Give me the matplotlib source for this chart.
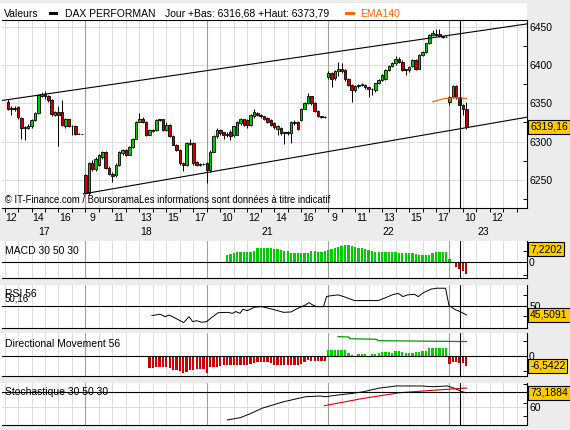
import matplotlib
matplotlib.use("Agg")
import matplotlib.pyplot as plt
from matplotlib.patches import Rectangle

plt.rcParams['font.family'] = ['Liberation Sans', 'DejaVu Sans']

W, H = 570, 430
BG = "#ECECEC"
UP, DOWN = "#00CC00", "#CC0000"
BOX = "#FFCC00"

# sessions shown (9:00-18:00, quarter-hour bars); x unit = trading hours
day_labels = ["17", "18", "21", "22", "23"]
first_bar = [13, 0, 0, 0, 0]
hour_labels = [[12, 14, 16], [9, 11, 13, 15, 17], [10, 12, 14, 16],
               [9, 11, 13, 15, 17], [10, 12]]

# OHLC per day (open, high, low, close)
d17 = [(6351, 6355, 6341, 6343), (6344, 6346, 6335, 6343), (6343, 6346, 6340, 6344),
       (6345, 6346, 6330, 6332), (6331, 6332, 6304, 6318), (6319, 6321, 6302, 6318),
       (6318, 6323, 6316, 6321), (6320, 6329, 6318, 6328), (6328, 6338, 6327, 6337),
       (6337, 6362, 6336, 6361), (6360, 6365, 6358, 6362), (6362, 6366, 6356, 6359),
       (6359, 6361, 6352, 6354), (6354, 6355, 6334, 6336), (6335, 6340, 6333, 6338),
       (6338, 6346, 6294, 6335), (6338, 6354, 6320, 6322), (6321, 6331, 6318, 6329),
       (6329, 6330, 6319, 6321), (6321, 6322, 6309, 6320), (6320, 6322, 6309, 6310),
       (6310, 6311, 6310, 6310), (6310, 6310, 6310, 6310)]
d18 = [(6257, 6258, 6232, 6233), (6233, 6274, 6231, 6272), (6272, 6276, 6262, 6264),
       (6264, 6280, 6262, 6278), (6270, 6284, 6268, 6282), (6280, 6288, 6278, 6287),
       (6287, 6288, 6264, 6266), (6266, 6268, 6256, 6258), (6258, 6260, 6248, 6255),
       (6256, 6272, 6254, 6270), (6270, 6288, 6268, 6287), (6285, 6291, 6283, 6289),
       (6289, 6290, 6281, 6283), (6283, 6294, 6282, 6293), (6293, 6305, 6292, 6304),
       (6304, 6327, 6303, 6326), (6326, 6337, 6325, 6330), (6330, 6332, 6324, 6326),
       (6326, 6327, 6307, 6309), (6309, 6316, 6308, 6315), (6314, 6317, 6313, 6315),
       (6315, 6329, 6314, 6328), (6328, 6330, 6327, 6329), (6329, 6330, 6314, 6315),
       (6315, 6326, 6314, 6322), (6322, 6323, 6306, 6307), (6307, 6308, 6295, 6296),
       (6296, 6297, 6288, 6289), (6289, 6290, 6269, 6272), (6272, 6274, 6262, 6270),
       (6270, 6299, 6268, 6298), (6297, 6303, 6296, 6298), (6298, 6299, 6270, 6272),
       (6274, 6275, 6268, 6270), (6270, 6272, 6268, 6271), (6271, 6272, 6270, 6271)]
d21 = [(6272, 6274, 6246, 6263), (6263, 6289, 6261, 6287), (6287, 6308, 6286, 6307),
       (6307, 6318, 6305, 6315), (6315, 6316, 6309, 6311), (6312, 6313, 6303, 6308),
       (6309, 6312, 6306, 6310), (6313, 6315, 6302, 6307), (6308, 6321, 6306, 6320),
       (6309, 6327, 6308, 6326), (6324, 6331, 6322, 6329), (6329, 6330, 6320, 6322),
       (6328, 6329, 6318, 6322), (6322, 6336, 6320, 6335), (6333, 6342, 6331, 6339),
       (6337, 6339, 6333, 6335), (6335, 6336, 6331, 6333), (6333, 6334, 6328, 6330),
       (6331, 6332, 6324, 6326), (6328, 6329, 6320, 6322), (6324, 6325, 6317, 6319),
       (6317, 6322, 6309, 6321), (6318, 6319, 6309, 6311), (6312, 6313, 6297, 6311),
       (6312, 6314, 6308, 6311), (6311, 6327, 6298, 6326), (6324, 6328, 6322, 6326),
       (6326, 6327, 6315, 6317), (6328, 6344, 6327, 6343), (6343, 6351, 6342, 6350),
       (6350, 6363, 6349, 6359), (6359, 6360, 6348, 6350), (6350, 6351, 6339, 6340),
       (6340, 6341, 6332, 6333), (6333, 6334, 6331, 6332), (6332, 6333, 6331, 6332)]
d22 = [(6384, 6392, 6382, 6389), (6389, 6391, 6371, 6382), (6383, 6393, 6380, 6392),
       (6392, 6404, 6385, 6394), (6394, 6402, 6390, 6392), (6393, 6394, 6379, 6381),
       (6382, 6383, 6372, 6374), (6374, 6375, 6351, 6367), (6367, 6374, 6365, 6373),
       (6372, 6375, 6370, 6374), (6374, 6377, 6372, 6375), (6374, 6375, 6369, 6371),
       (6371, 6372, 6358, 6368), (6368, 6370, 6361, 6368), (6367, 6377, 6365, 6376),
       (6376, 6381, 6375, 6380), (6380, 6388, 6379, 6387), (6382, 6395, 6380, 6393),
       (6393, 6400, 6392, 6398), (6398, 6404, 6397, 6402), (6402, 6412, 6400, 6408),
       (6408, 6410, 6403, 6404), (6404, 6406, 6392, 6393), (6394, 6395, 6387, 6393),
       (6393, 6398, 6391, 6397), (6398, 6408, 6397, 6407), (6407, 6408, 6393, 6394),
       (6395, 6414, 6394, 6413), (6413, 6418, 6412, 6417), (6417, 6429, 6416, 6428),
       (6428, 6440, 6427, 6439), (6439, 6446, 6438, 6441), (6440, 6447, 6438, 6439),
       (6440, 6447, 6436, 6437), (6437, 6438, 6435, 6436), (6436.5, 6437, 6436, 6436.5)]
d23 = [(6352, 6360, 6348, 6358.6), (6358.6, 6373.79, 6357, 6372), (6372, 6373.5, 6356, 6358.6),
       (6358, 6359, 6340, 6348), (6348, 6349, 6335, 6342), (6342, 6352, 6316.68, 6319.16)]
ohlc_days = [d17, d18, d21, d22, d23]

# EMA140 (from day 22 bar 31)
ema_start = (3, 31)
ema_vals = [6352, 6353, 6354.5, 6355.5, 6356.5, 6356.5, 6357, 6357, 6356.8, 6356.6, 6356.3]

# channel lines: anchor points (trading hours, index)
upper_pts = [(2.88, 6353.8), (41.75, 6453.4)]
lower_pts = [(8.85, 6231.9), (37.26, 6318.2)]

# MACD histogram (from day 21 bar 6)
macd_start = (2, 6)
macd_vals = [4.1, 4.6, 5.3, 5.6, 5.9, 5.9, 5.9, 5.9, 6.2, 7.8, 7.8, 7.8, 7.8, 7.8, 7.5,
             7.2, 6.8, 6.3, 6.0, 5.0, 5.0, 5.0, 5.0, 5.0, 5.3, 6.3, 6.0, 5.9, 5.9, 6.3,
             6.8, 7.5, 8.1, 8.3, 9.0, 9.6, 9.6, 9.2, 8.3, 8.0, 7.8, 7.4, 7.0, 6.3, 5.6,
             5.6, 5.6, 5.6, 5.6, 5.6, 5.6, 5.3, 5.0, 5.0, 5.0, 5.0, 4.4, 4.1, 4.1, 4.1,
             4.1, 5.0, 5.9, 5.9, 5.9, 5.9,
             1.7, -0.6, -2.8, -3.8, -4.6, -6.7]

# RSI 56
rsi_t = [13.93, 14.53, 14.93, 15.19, 15.60, 16.28, 16.68, 16.95, 17.23, 17.63, 17.98,
         18.44, 18.84, 19.52, 19.92, 20.14, 20.46, 20.68, 21.0, 21.54, 22.08, 22.89,
         23.70, 24.24, 24.78, 25.32, 25.58, 25.85, 26.13, 26.66, 26.88, 27.06, 27.73,
         28.15, 28.96, 29.9, 30.71, 31.26, 31.79, 32.2, 32.55, 32.87, 33.41, 33.68,
         34.08, 34.62, 35.03, 35.71, 35.97, 36.11, 36.37, 36.78, 37.26]
rsi_v = [45.2, 45.9, 44.6, 45.5, 44.1, 41.5, 44.6, 42.0, 42.5, 41.7, 42.0, 44.6, 46.7,
         46.9, 46.4, 47.3, 46.4, 48.5, 47.8, 49.6, 49.9, 48.5, 46.9, 47.1, 49.1, 50.8,
         52.0, 50.8, 49.9, 49.9, 55.2, 55.5, 56.1, 55.2, 53.1, 53.1, 53.1, 54.6, 56.2,
         56.9, 55.2, 56.1, 56.4, 55.2, 57.3, 59.1, 59.6, 59.6, 50.3, 49.9, 48.5, 47.3,
         45.5091]

# Directional Movement 56 (histogram from day 18 bar 19, line)
dm_start = (1, 19)
dm_vals = [-8.2, -8.2, -7.5, -7.1, -7.1, -7.1, -7.8, -9.0, -9.6, -10.2, -11.0, -10.5,
           -9.0, -9.0, -8.9, -8.9, -8.9,
           -11.1, -7.1, -7.1, -7.1, -6.5, -6.0, -6.0, -6.0, -6.0, -6.0, -6.0, -6.0,
           -6.0, -5.5, -4.5, -3.8, -3.8, -3.8, -3.8, -4.5, -6.0, -6.0, -6.0, -6.0,
           -6.0, -6.0, -6.0, -6.0, -5.5, -4.0, -2.7, -3.1, -3.1, -3.1, -3.1, -3.1,
           4.0, 4.0, 4.0, 4.0, 4.0, 4.0, 1.8, 0.7, 0.3, 1.1, 1.1, 1.1, 0.3, 1.1, 1.5,
           2.2, 2.5, 2.9, 2.9, 2.2, 3.5, 3.5, 2.9, 2.2, 2.2, 2.2, 2.5, 2.9, 3.5, 3.5,
           5.1, 5.1, 5.1, 5.1, 5.1, 5.1,
           -5.3, -3.8, -3.8, -4.9, -4.9, -6.5422]
dm_line_t = [27.73, 28.55, 28.6, 29.63, 30.58, 30.7, 37.26]
dm_line_v = [12.9, 12.6, 11.5, 11.3, 11.1, 10.2, 9.6]

# Stochastique 30 50 30
sto_t = [19.52, 20.19, 20.46, 21.28, 22.08, 22.89, 23.70, 24.50, 25.32, 26.40, 26.80,
         27.73, 28.82, 29.63, 30.71, 32.06, 33.95, 34.76, 35.84, 36.37, 36.92, 37.26]
sto_v = [48.5, 50.0, 50.5, 54.5, 59.1, 62.1, 65.1, 67.3, 69.6, 70.3, 69.6, 71.2, 72.7,
         74.2, 77.3, 79.4, 79.4, 78.7, 79.4, 77.3, 74.2, 73.1884]
sig_t = [26.74, 28.29, 29.63, 32.33, 35.03, 37.26]
sig_v = [61.5, 65.1, 68.2, 73.3, 75.7, 77.5]
sto_level = 74.2

cursor_t = 36.75
XMIN, XMAX = 2.81, 41.75


def bar_time(d, k):
    return d * 9 + k * 0.25


def series_times(start, n):
    d, k = start
    out = []
    for _ in range(n):
        out.append(bar_time(d, k))
        k += 1
        if k == 36:
            d, k = d + 1, 0
    return out


def px_rect(x0, y0, x1, y1):
    return [x0 / W, 1 - y1 / H, (x1 - x0) / W, (y1 - y0) / H]


fig = plt.figure(figsize=(W / 100, H / 100), dpi=100, facecolor=BG)

# white panel backgrounds (incl. header strip)
for y0, y1 in [(3, 208), (241, 278.3), (285, 328.3), (333, 376), (383, 424.5)]:
    r = px_rect(0, y0, 527, y1)
    fig.add_artist(Rectangle((r[0], r[1]), r[2], r[3], transform=fig.transFigure,
                             facecolor="white", edgecolor="none", zorder=-1))

hours = [d * 9 + j for d in range(5) for j in range(1, 9) if XMIN < d * 9 + j < XMAX]
bounds = [9, 18, 27, 36]


def make_panel(y0, y1, top=False):
    ax = fig.add_axes(px_rect(2, y0, 527, y1))
    ax.set_facecolor("white")
    for s in ["left", "top"]:
        ax.spines[s].set_visible(False)
    if top:
        ax.spines["top"].set_visible(True)
    for s in ax.spines.values():
        s.set_linewidth(0.8)
        s.set_color("black")
    ax.set_xlim(XMIN, XMAX)
    ax.set_xticks([])
    ax.yaxis.tick_right()
    ax.tick_params(axis="y", which="both", direction="in", length=3, width=0.7,
                   pad=1.5, labelsize=7.5)
    ax.tick_params(axis="y", which="major", length=0)
    for tt in hours:
        ax.axvline(tt, color="#DCDCDC", lw=0.7, zorder=0.5)
    for tt in bounds:
        ax.axvline(tt, color="#A0A0A0", lw=0.8, zorder=0.6)
    ax.axvline(cursor_t, color="black", lw=0.8, zorder=6)
    return ax


# ---- main price panel
ax = make_panel(20, 208, top=True)
ax.set_ylim(6213.5, 6458.5)
ax.set_yticks([6250, 6300, 6350, 6400, 6450])
ax.set_yticks([6225, 6275, 6325, 6375, 6425, 6250, 6300, 6350, 6400, 6450], minor=True)
for v in [6250, 6300, 6350, 6400, 6450]:
    ax.axhline(v, color="#DCDCDC", lw=0.7, zorder=0.5)

for d, bars in enumerate(ohlc_days):
    for k, (o, hi, lo, c) in enumerate(bars):
        t = bar_time(d, first_bar[d] + k)
        ax.vlines(t, lo, hi, color="black", lw=0.7, zorder=3)
        col = UP if c >= o else DOWN
        ax.bar(t, c - o, bottom=o, width=0.19, color=col, edgecolor="black",
               linewidth=0.6, zorder=4)

ema_t = series_times(ema_start, len(ema_vals))
ax.plot(ema_t, ema_vals, color="#FF6600", lw=0.9, zorder=5)

(ux0, uy0), (ux1, uy1) = upper_pts
su = (uy1 - uy0) / (ux1 - ux0)
ax.plot([XMIN, XMAX], [uy0 + su * (XMIN - ux0), uy0 + su * (XMAX - ux0)],
        color="black", lw=0.8, zorder=5)
(lx0, ly0), (lx1, ly1) = lower_pts
sl = (ly1 - ly0) / (lx1 - lx0)
ax.plot([lx0, XMAX], [ly0, ly0 + sl * (XMAX - lx0)], color="black", lw=0.8, zorder=5)

ax.text(0.006, 0.04, "\u00a9 IT-Finance.com / BoursoramaLes informations sont donn\u00e9es \u00e0 titre indicatif",
        transform=ax.transAxes, fontsize=6.85, va="center", ha="left", zorder=7)

# x axis ticks / labels
ax.set_xticks(hours + bounds)
ax.tick_params(axis="x", direction="out", length=3, width=0.7, labelbottom=False)
for d, hl in enumerate(hour_labels):
    for hh in hl:
        ax.annotate(str(hh), xy=(d * 9 + hh - 9 + 0.5, 0), xycoords=("data", "axes fraction"),
                    xytext=(0, -7.3), textcoords="offset points", ha="center", va="center",
                    fontsize=7.5, annotation_clip=False)
    lo_t = max(d * 9, XMIN)
    hi_t = min(d * 9 + 9, 41)
    ax.annotate(day_labels[d], xy=((lo_t + hi_t) / 2, 0), xycoords=("data", "axes fraction"),
                xytext=(0, -17.3), textcoords="offset points", ha="center", va="center",
                fontsize=7.5, annotation_clip=False)

# ---- MACD
ax2 = make_panel(241, 278.3)
ax2.set_ylim(-8.9, 11.8)
ax2.set_yticks([0])
ax2.set_yticklabels(["0"])
ax2.set_yticks([-7, 6], minor=True)
ax2.axhline(0, color="black", lw=0.8, zorder=5)
mt = series_times(macd_start, len(macd_vals))
ax2.bar(mt, macd_vals, width=0.17, color=[UP if v >= 0 else DOWN for v in macd_vals],
        zorder=3)
ax2.text(0.005, 0.73, "MACD 30 50 30", transform=ax2.transAxes, fontsize=7.5, va="center")

# ---- RSI
ax3 = make_panel(285, 328.3)
ax3.set_ylim(38.5, 61.3)
ax3.set_yticks([50])
ax3.set_yticklabels(["50"])
ax3.set_yticks([45, 56], minor=True)
ax3.axhline(50, color="black", lw=0.8, zorder=5)
ax3.plot(rsi_t, rsi_v, color="black", lw=0.7, zorder=4)
ax3.text(0.005, 0.80, "RSI 56", transform=ax3.transAxes, fontsize=7.5, va="center")
ax3.text(0.005, 0.68, "50,16", transform=ax3.transAxes, fontsize=7, va="center")

# ---- Directional movement
ax4 = make_panel(333, 376)
ax4.set_ylim(-13.3, 15.3)
ax4.set_yticks([0])
ax4.set_yticklabels(["0"])
ax4.set_yticks([-10, 10], minor=True)
ax4.axhline(0, color="black", lw=0.8, zorder=5)
dt = series_times(dm_start, len(dm_vals))
ax4.bar(dt, dm_vals, width=0.17, color=[UP if v >= 0 else DOWN for v in dm_vals], zorder=3)
ax4.plot(dm_line_t, dm_line_v, color="#009900", lw=0.9, zorder=4)
ax4.text(0.005, 0.74, "Directional Movement 56", transform=ax4.transAxes, fontsize=7.5,
         va="center")

# ---- Stochastique
ax5 = make_panel(383, 424.5)
ax5.set_ylim(44.4, 82.1)
ax5.set_yticks([60])
ax5.set_yticklabels(["60"])
ax5.set_yticks([52, 64, 74.2, 81], minor=True)
ax5.axhline(60, color="#DCDCDC", lw=0.7, zorder=0.5)
ax5.axhline(sto_level, color="black", lw=0.8, zorder=5)
ax5.plot(sto_t, sto_v, color="black", lw=0.7, zorder=4)
ax5.plot(sig_t, sig_v, color="#DD0000", lw=0.8, zorder=4)
ax5.text(0.005, 0.79, "Stochastique 30 50 30", transform=ax5.transAxes, fontsize=7.5,
         va="center", zorder=4)

# ---- header legend
hy = 1 - 13.8 / H
fig.text(3.5 / W, hy, "Valeurs", fontsize=7.5, va="center")
fig.add_artist(Rectangle((49 / W, 1 - 15.3 / H), 9 / W, 3 / H, transform=fig.transFigure,
                         facecolor="black", edgecolor="none"))
fig.text(65 / W, hy, "DAX PERFORMAN", fontsize=7.5, va="center")
fig.text(165 / W, hy, "Jour +Bas: 6316,68 +Haut: 6373,79", fontsize=7.5, va="center")
fig.add_artist(Rectangle((345 / W, 1 - 15.3 / H), 10 / W, 3 / H, transform=fig.transFigure,
                         facecolor="#FF6600", edgecolor="none"))
fig.text(360 / W, hy, "EMA140", fontsize=7.5, va="center", color="#FF6600")

# ---- last value boxes
boxes = [(ax, d23[-1][3], "6319,16"), (ax2, 7.2202, "7,2202"), (ax3, rsi_v[-1], "45,5091"),
         (ax4, dm_vals[-1], "-6,5422"), (ax5, sto_v[-1], "73,1884")]
for a, v, s in boxes:
    a.annotate(s, xy=(1, v), xycoords=("axes fraction", "data"), xytext=(2.2, 0),
               textcoords="offset points", ha="left", va="center", fontsize=7.5,
               annotation_clip=False, zorder=10,
               bbox=dict(boxstyle="square,pad=0.18", fc=BOX, ec="black", lw=0.8))

fig.savefig("out.png", dpi=100, facecolor=BG)
